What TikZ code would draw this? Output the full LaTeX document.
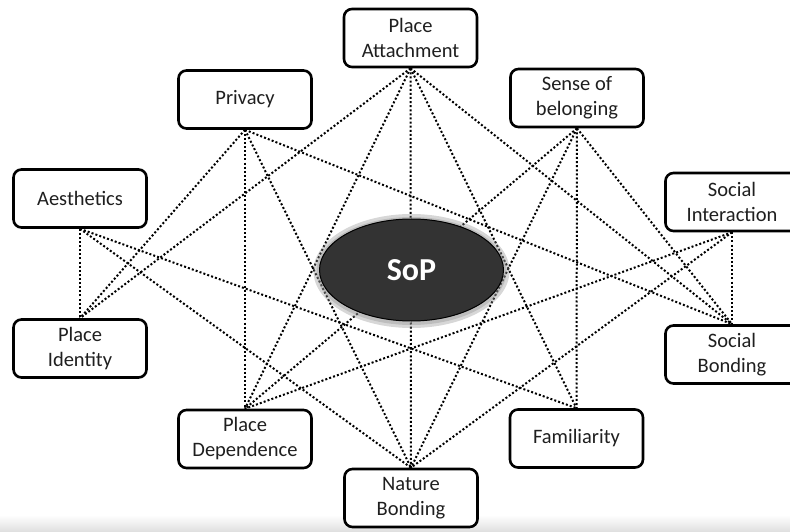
\documentclass[tikz,border=0pt]{standalone}
\usepackage{fontspec}
\setmainfont{Carlito}
\usetikzlibrary{shapes.geometric}
\pgfdeclarelayer{bgbg}
\pgfdeclarelayer{bg}
\pgfsetlayers{bgbg,bg,main}
\tikzset{
  box/.style={draw=black, line width=2.6pt, rounded corners=8pt, fill=white,
    minimum width=133pt, minimum height=58pt, align=center, inner sep=0pt,
    font=\fontsize{20.5}{25}\selectfont, text=black!88},
  link/.style={line width=2pt, dash pattern=on 2pt off 2.1pt},
  core/.style={ellipse, draw=black, line width=1pt, fill=black!80,
    minimum width=184pt, minimum height=102pt, inner sep=0pt,
    font=\bfseries\fontsize{32}{36}\selectfont, text=white},
}
\begin{document}
\begin{tikzpicture}[x=1pt,y=1pt]
\useasboundingbox (0,0) rectangle (790,531);
\begin{pgfonlayer}{bgbg}
  \shade[top color=white, bottom color=black!12] (0,0) rectangle (790,16);
\end{pgfonlayer}
% upper nodes
\node[box] (pa)   at (410.5,493)  {Place\\Attachment};
\node[box] (priv) at (245,431.5)  {Privacy};
\node[box] (sob)  at (577,433)    {Sense of\\belonging};
\node[box] (aes)  at (80,332.5)   {Aesthetics};
\node[box] (si)   at (732,329)    {Social\\Interaction};
% lower nodes
\node[box] (pi)   at (80,182.5)   {Place\\Identity};
\node[box] (sb)   at (732,176.5)  {Social\\Bonding};
\node[box] (pd)   at (245,92)     {Place\\Dependence};
\node[box] (fam)  at (576.5,92.5) {Familiarity};
\node[box] (nb)   at (411,33)     {Nature\\Bonding};
% centre
\fill[black!45, opacity=0.35] (411.5,260) ellipse [x radius=98pt, y radius=57pt];
\fill[black!45, opacity=0.35] (411.5,260) ellipse [x radius=95pt, y radius=54pt];
\node[core] (sop) at (411.5,261) {SoP};
% connectors
\begin{pgfonlayer}{bg}
\foreach \a/\b in {aes/pi, aes/nb, aes/fam,
                   priv/pi, priv/pd, priv/nb, priv/sb,
                   pa/pi, pa/pd, pa/nb, pa/fam, pa/sb,
                   sob/pd, sob/nb, sob/fam, sob/sb,
                   si/sb, si/pd, si/nb}
  \draw[link] (\a.south) -- (\b.north);
\end{pgfonlayer}
\end{tikzpicture}
\end{document}
